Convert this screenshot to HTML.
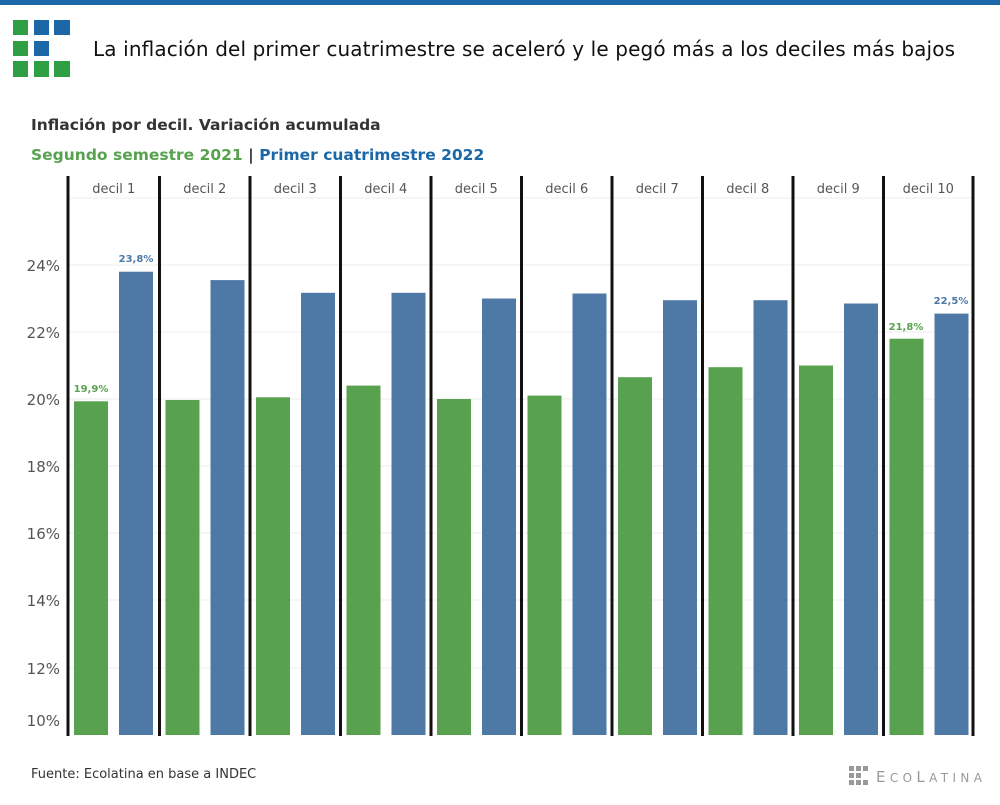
<!DOCTYPE html>
<html><head><meta charset="utf-8"><style>
body{margin:0;background:#fff;width:1000px;height:800px;overflow:hidden}
</style></head><body>
<svg width="1000" height="800" xmlns="http://www.w3.org/2000/svg" font-family="DejaVu Sans, Liberation Sans, sans-serif">
<rect x="0" y="0" width="1000" height="5" fill="#1b67a8"/>
<rect x="13" y="20" width="15" height="15" fill="#2ea043"/><rect x="34" y="20" width="15" height="15" fill="#1b67a8"/><rect x="54" y="20" width="16" height="15" fill="#1b67a8"/>
<rect x="13" y="41" width="15" height="15" fill="#2ea043"/><rect x="34" y="41" width="15" height="15" fill="#1b67a8"/>
<rect x="13" y="61" width="15" height="16" fill="#2ea043"/><rect x="34" y="61" width="15" height="16" fill="#2ea043"/><rect x="54" y="61" width="16" height="16" fill="#2ea043"/>
<text x="93" y="56" font-size="20" fill="#111" textLength="862" lengthAdjust="spacing">La inflación del primer cuatrimestre se aceleró y le pegó más a los deciles más bajos</text>
<text x="31" y="130" font-size="15.5" font-weight="bold" fill="#333">Inflación por decil. Variación acumulada</text>
<text x="31" y="160" font-size="15.5" font-weight="bold"><tspan fill="#58a14e">Segundo semestre 2021</tspan><tspan fill="#333"> | </tspan><tspan fill="#1b67a8">Primer cuatrimestre 2022</tspan></text>
<g stroke="#eee" stroke-width="1">
<line x1="68" y1="198" x2="973" y2="198"/><line x1="68" y1="265" x2="973" y2="265"/><line x1="68" y1="332" x2="973" y2="332"/><line x1="68" y1="399" x2="973" y2="399"/><line x1="68" y1="466" x2="973" y2="466"/><line x1="68" y1="533" x2="973" y2="533"/><line x1="68" y1="600" x2="973" y2="600"/><line x1="68" y1="668" x2="973" y2="668"/>
</g>
<g font-size="15" fill="#555" text-anchor="end">
<text x="60" y="271">24%</text><text x="60" y="338">22%</text><text x="60" y="405">20%</text><text x="60" y="472">18%</text><text x="60" y="539">16%</text><text x="60" y="606">14%</text><text x="60" y="674">12%</text><text x="60" y="726">10%</text>
</g>
<g fill="#58a14e">
<rect x="74" y="401.3" width="34" height="333.7"/>
<rect x="165.5" y="400" width="34" height="335"/>
<rect x="256" y="397.3" width="34" height="337.7"/>
<rect x="346.5" y="385.6" width="34" height="349.4"/>
<rect x="437" y="399" width="34" height="336"/>
<rect x="527.5" y="395.6" width="34" height="339.4"/>
<rect x="618" y="377.2" width="34" height="357.8"/>
<rect x="708.5" y="367.2" width="34" height="367.8"/>
<rect x="799" y="365.5" width="34" height="369.5"/>
<rect x="889.5" y="338.7" width="34" height="396.3"/>
</g>
<g fill="#4e79a7">
<rect x="119" y="271.7" width="34" height="463.3"/>
<rect x="210.5" y="280.1" width="34" height="454.9"/>
<rect x="301" y="292.8" width="34" height="442.2"/>
<rect x="391.5" y="292.8" width="34" height="442.2"/>
<rect x="482" y="298.5" width="34" height="436.5"/>
<rect x="572.5" y="293.5" width="34" height="441.5"/>
<rect x="663" y="300.2" width="34" height="434.8"/>
<rect x="753.5" y="300.2" width="34" height="434.8"/>
<rect x="844" y="303.5" width="34" height="431.5"/>
<rect x="934.5" y="313.6" width="34" height="421.4"/>
</g>
<g font-size="13" fill="#555" text-anchor="middle">
<text x="113.75" y="193">decil 1</text><text x="204.75" y="193">decil 2</text><text x="295.25" y="193">decil 3</text><text x="385.75" y="193">decil 4</text><text x="476.25" y="193">decil 5</text><text x="566.75" y="193">decil 6</text><text x="657.25" y="193">decil 7</text><text x="747.75" y="193">decil 8</text><text x="838.25" y="193">decil 9</text><text x="928.25" y="193">decil 10</text>
</g>
<g font-size="10" font-weight="bold" text-anchor="middle">
<text x="91" y="392" fill="#58a14e">19,9%</text>
<text x="136" y="262" fill="#4e79a7">23,8%</text>
<text x="906" y="330" fill="#58a14e">21,8%</text>
<text x="951" y="304" fill="#4e79a7">22,5%</text>
</g>
<g fill="#111">
<rect x="66.5" y="176" width="3" height="560"/><rect x="158" y="176" width="3" height="560"/><rect x="248.5" y="176" width="3" height="560"/><rect x="339" y="176" width="3" height="560"/><rect x="429.5" y="176" width="3" height="560"/><rect x="520" y="176" width="3" height="560"/><rect x="610.5" y="176" width="3" height="560"/><rect x="701" y="176" width="3" height="560"/><rect x="791.5" y="176" width="3" height="560"/><rect x="882" y="176" width="3" height="560"/><rect x="971.5" y="176" width="3" height="560"/>
</g>
<text x="31" y="778" font-size="13" fill="#333">Fuente: Ecolatina en base a INDEC</text>
<g fill="#999">
<rect x="849" y="766" width="5" height="5"/><rect x="856" y="766" width="5" height="5"/><rect x="863" y="766" width="5" height="5"/>
<rect x="849" y="773" width="5" height="5"/><rect x="856" y="773" width="5" height="5"/>
<rect x="849" y="780" width="5" height="5"/><rect x="856" y="780" width="5" height="5"/><rect x="863" y="780" width="5" height="5"/>
</g>
<text x="876" y="782" font-size="15" fill="#999" textLength="106" lengthAdjust="spacing">E<tspan font-size="12">CO</tspan>L<tspan font-size="12">ATINA</tspan></text>
</svg>
</body></html>
